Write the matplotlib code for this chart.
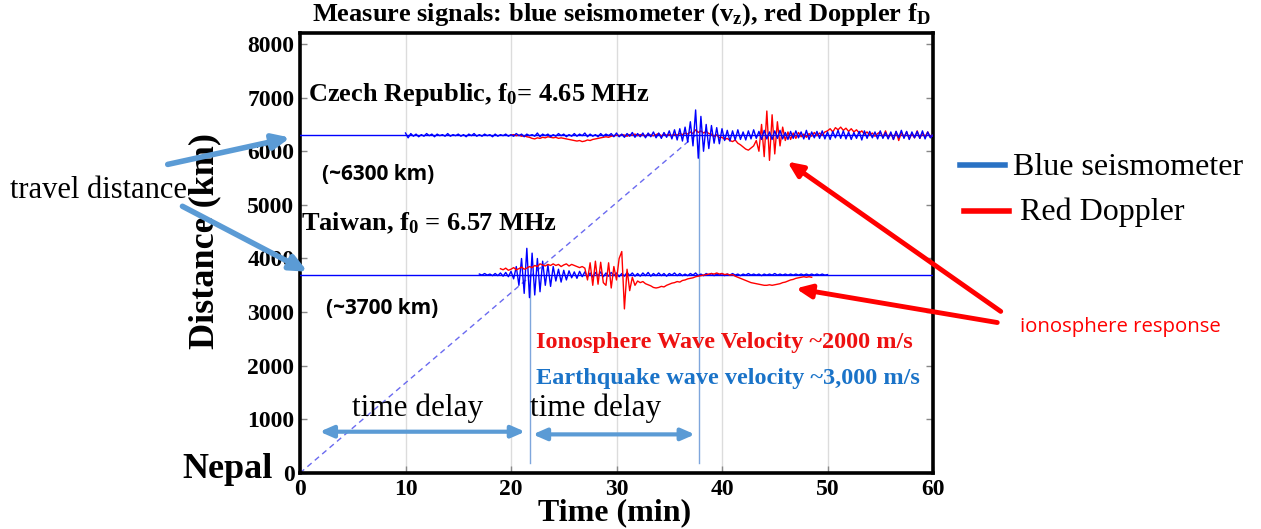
import numpy as np
import matplotlib
matplotlib.use("Agg")
import matplotlib.pyplot as plt

plt.rcParams['mathtext.fontset'] = 'custom'
plt.rcParams['mathtext.rm'] = 'Liberation Serif:bold'
plt.rcParams['mathtext.it'] = 'Liberation Serif:bold'
plt.rcParams['mathtext.bf'] = 'Liberation Serif:bold'
plt.rcParams['mathtext.default'] = 'rm'

SERIF = 'Liberation Serif'

# ---------------- data ----------------
czech_dist = 6300
taiwan_dist = 3700

# Czech seismometer (offsets in km), t = 10..60 step 0.25
czech_blue_t = np.arange(10.0, 60.001, 0.25)
czech_blue = [
    40, -50, 30, -20, 20, -30, 10, -20, 30, -10, 20, -30, 20, -10, 10, -20, 30, -20, 10, -10,
    20, -20, 10, -30, 20, -10, 30, -20, 10, -20, 20, -10, 10, -30, 20, -20, 10, -10, 20, -20,
    10, -20, 30, -10, 20, -30, 20, -10, 10, -20, 40, -30, 20, -10, 20, -30, 10, -20, 30, -10,
    20, -30, 10, -20, 30, -20, 20, -10, 40, -30, 20, -20, 10, -30, 30, -20, 20, -10, 30, -30,
    40, -30, 20, -40, 30, -20, 50, -40, 30, -30, 40, -50, 40, -30, 60, -50, 40, -60, 50, -40,
    80, -70, 100, -90, 120, -110, 150, -130, 250, -200, 470, -430, 350, -300, 200, -250, 180, -150, 140, -160,
    120, -100, 90, -110, 80, -90, 100, -80, 60, -90, 80, -70, 100, -60, 70, -80, 90, -70, 60, -80,
    80, -60, 90, -70, 50, -80, 70, -60, 80, -50, 60, -70, 90, -80, 60, -50, 70, -60, 80, -70,
    60, -80, 70, -50, 90, -60, 80, -70, 60, -80, 50, -60, 70, -90, 80, -60, 70, -50, 60, -70,
    80, -60, 50, -70, 60, -80, 70, -50, 90, -60, 70, -80, 60, -50, 70, -60, 80, -70, 60, -50,
    0]

# Czech Doppler (offsets in km), t = 20..60 step 0.25
czech_red_t = np.arange(20.0, 60.001, 0.25)
czech_red = [
    0, 10, -10, 0, -20, -10, -30, -40, -60, -70, -50, -60, -40, -50, -30, -40, -50, -40, -60, -50,
    -60, -70, -80, -90, -100, -110, -100, -120, -110, -90, -100, -80, -70, -60, -50, -40, -30, -40, -20, -10,
    0, -10, 10, 0, -20, 10, 0, 20, -10, 10, 0, -20, 20, 0, -10, 10, 30, -20, 20, 0,
    10, -10, 20, 0, 30, 10, 40, 20, 60, 30, 100, 50, 80, 40, 70, 30, 20, -30, 10, -50,
    -40, -80, -60, -100, -120, -90, -150, -180, -220, -260, -280, -240, -200, -100, -300, 200, -400, 450, -470, 380,
    -350, 250, -200, 150, -100, 60, -80, 40, -60, 50, -30, 20, -40, 30, -20, 50, -10, 40, 0, 60,
    80, 120, 60, 140, 100, 150, 90, 130, 70, 120, 60, 100, 40, 80, 20, 60, 0, 40, -20, 30,
    60, -40, 80, -60, 40, -80, 70, -100, 50, -40, 60, -70, 30, -50, 80, -60, 40, -30, 60, -40,
    0]

# Taiwan seismometer (offsets in km), t = 17..50 step 0.25
taiwan_blue_t = np.arange(17.0, 50.001, 0.25)
taiwan_blue = [
    10, -10, 20, -10, 10, -20, 20, -20, 30, -30, 40, -40, 60, -80, 150, -200, 300, -350, 490, -430,
    400, -380, 300, -320, 250, -200, 180, -220, 150, -120, 100, -140, 80, -100, 70, -60, 50, -70, 60, -40,
    50, -40, 30, -50, 40, -30, 50, -40, 30, -30, 40, -20, 30, -40, 20, -30, 40, -20, 30, -30,
    20, -30, 30, -20, 40, -30, 20, -20, 30, -20, 20, -30, 20, -10, 30, -20, 20, -20, 10, -20,
    20, -10, 30, -20, 10, -20, 20, -10, 20, -20, 10, -10, 20, -20, 10, -10, 20, -10, 10, -20,
    10, -10, 20, -10, 10, -10, 10, -20, 10, -10, 10, -10, 20, -10, 10, -10, 10, -10, 10, -10,
    10, -10, 10, -10, 10, -10, 10, -10, 10, -10, 10, -10, 0]

# Taiwan Doppler (offsets in km), t = 19..48.5 step 0.25
taiwan_red_t = np.arange(19.0, 48.501, 0.25)
taiwan_red = [
    110, 90, 120, 80, 100, 130, 90, 110, 140, 100, 120, 150, 130, 170, 150, 200, 180, 160, 190, 170,
    200, 170, 190, 150, 180, 200, 160, 190, 170, 150, 130, 150, 120, -100, 220, -200, 250, -180, 230, -150,
    -200, 220, -250, 150, -100, 300, 430, -640, 100, -300, -50, -200, -120, -150, -130, -170, -190, -210, -240, -250,
    -240, -220, -230, -200, -180, -160, -150, -130, -140, -110, -100, -80, -70, -60, -40, -30, -20, -10, 0, 10,
    20, 10, 30, 10, 20, 0, 10, -10, 0, -30, -50, -70, -90, -110, -130, -150, -160, -170, -180, -190,
    -200, -200, -190, -200, -190, -180, -170, -150, -140, -120, -100, -90, -70, -60, -50, -40, -50, -40, -50]

# travel line & arrivals
travel_t = [0, 37.5]
travel_d = [0, 6300]
arrival_taiwan = 21.8
arrival_czech = 37.8

xticks = [0, 10, 20, 30, 40, 50, 60]
yticks = [0, 1000, 2000, 3000, 4000, 5000, 6000, 7000, 8000]
ytick_labels = ['0', '1000', '2000', '3000', '4000', '5000', '6000', '7000', '8000']

BLUE = '#0000ff'
RED = '#ff0000'
STEEL = '#5b9bd5'
LIGHTBLUE = '#7fa6dc'

W, H = 1261, 529
fig = plt.figure(figsize=(W / 100, H / 100), dpi=100)
ax = fig.add_axes([300 / W, 1 - 473 / H, 633 / W, 440 / H])
ax.set_xlim(0, 60)
ax.set_ylim(0, 8205)

# grid
for x in xticks[1:-1]:
    ax.axvline(x, color='#dcdcdc', lw=1.0, zorder=0)

# travel line
ax.plot(travel_t, travel_d, color='#6a6af0', lw=1.0, ls=(0, (4, 3)), zorder=2)

# arrival verticals
ax.plot([arrival_taiwan, arrival_taiwan], [190, taiwan_dist], color=LIGHTBLUE, lw=1.0, zorder=2)
ax.plot([arrival_czech, arrival_czech], [190, czech_dist], color=LIGHTBLUE, lw=1.0, zorder=2)

# baselines + signals
ax.plot([0, 60], [czech_dist, czech_dist], color=BLUE, lw=1.0, zorder=3)
ax.plot([0, 60], [taiwan_dist, taiwan_dist], color=BLUE, lw=1.0, zorder=3)
ax.plot(czech_red_t, czech_dist + np.array(czech_red), color=RED, lw=1.0, zorder=3)
ax.plot(czech_blue_t, czech_dist + np.array(czech_blue), color=BLUE, lw=1.0, zorder=4)
ax.plot(taiwan_red_t, taiwan_dist + np.array(taiwan_red), color=RED, lw=1.0, zorder=4)
ax.plot(taiwan_blue_t, taiwan_dist + np.array(taiwan_blue), color=BLUE, lw=1.0, zorder=3)

# axes styling
for s in ax.spines.values():
    s.set_linewidth(2.6)
ax.set_xticks(xticks)
ax.set_yticks(yticks)
ax.set_yticklabels(ytick_labels)
ax.tick_params(axis='both', direction='in', length=5, width=1, color='#888888',
               right=True, labelsize=17, pad=4)
for lab in ax.get_xticklabels() + ax.get_yticklabels():
    lab.set_fontfamily(SERIF)
    lab.set_fontweight('bold')
ax.set_xlabel('Time (min)', fontsize=23, fontfamily=SERIF, fontweight='bold')
ax.xaxis.set_label_coords((615 - 300) / 633, (473 - 513) / 440)
ax.xaxis.label.set_va('center')
ax.set_ylabel('Distance (km)', fontsize=26, fontfamily=SERIF, fontweight='bold')
ax.yaxis.set_label_coords((205 - 300) / 633, (473 - 241) / 440)
ax.yaxis.label.set_va('center')

# title
fig.text(621 / W, 1 - 15 / H, r'Measure signals: blue seismometer ($v_z$), red Doppler $f_D$',
         fontsize=19, fontfamily=SERIF, fontweight='bold', ha='center', va='center')

# Nepal
fig.text(273 / W, 1 - 469 / H, 'Nepal', fontsize=26, fontfamily=SERIF, fontweight='bold',
         ha='right', va='center')

# station labels
ax.text(0.8, 7050, r'Czech Republic, $f_0$= 4.65 MHz', fontsize=19, fontfamily=SERIF,
        fontweight='bold', va='center', ha='left')
ax.text(0.1, 4650, r'Taiwan, $f_0$ = 6.57 MHz', fontsize=19, fontfamily=SERIF,
        fontweight='bold', va='center', ha='left')
ax.text(2.1, 5570, '(~6300 km)', fontsize=15, fontfamily='Open Sans', fontweight='bold',
        va='center', ha='left')
ax.text(2.5, 3070, '(~3700 km)', fontsize=15, fontfamily='Open Sans', fontweight='bold',
        va='center', ha='left')

# velocity texts
ax.text(22.4, 2440, 'Ionosphere Wave Velocity ~2000 m/s', fontsize=17.5, fontfamily=SERIF,
        fontweight='bold', color='#ee1111', va='center', ha='left')
ax.text(22.4, 1770, 'Earthquake wave velocity ~3,000 m/s', fontsize=17.5, fontfamily=SERIF,
        fontweight='bold', color='#1a73c8', va='center', ha='left')

# time delay arrows
ax.annotate('', xy=(1.6, 770), xytext=(21.6, 770),
            arrowprops=dict(arrowstyle='<|-|>,head_length=0.8,head_width=0.35', color=STEEL, lw=3))
ax.annotate('', xy=(21.8, 720), xytext=(37.7, 720),
            arrowprops=dict(arrowstyle='<|-|>,head_length=0.8,head_width=0.35', color=STEEL, lw=3))
ax.text(11.1, 1210, 'time delay', fontsize=22.5, fontfamily=SERIF, ha='center', va='center')
ax.text(28.0, 1210, 'time delay', fontsize=22.5, fontfamily=SERIF, ha='center', va='center')

# travel distance text & arrows (figure coords)
fig.text(10 / W, 1 - 190 / H, 'travel distance', fontsize=22, fontfamily=SERIF,
         ha='left', va='center')
for (x0, y0, x1, y1) in [(165, 165, 293, 137), (180, 205, 310, 273)]:
    ax.annotate('', xy=(x1 / W, 1 - y1 / H), xycoords='figure fraction',
                xytext=(x0 / W, 1 - y0 / H), textcoords='figure fraction',
                arrowprops=dict(arrowstyle='-|>,head_length=1.0,head_width=0.45',
                                color=STEEL, lw=4), annotation_clip=False)

# red arrows to ionosphere response
for (x0, y0, x1, y1) in [(1003, 313, 785, 160), (1000, 323, 793, 288)]:
    ax.annotate('', xy=(x1 / W, 1 - y1 / H), xycoords='figure fraction',
                xytext=(x0 / W, 1 - y0 / H), textcoords='figure fraction',
                arrowprops=dict(arrowstyle='-|>,head_length=0.9,head_width=0.4',
                                color=RED, lw=3.5), annotation_clip=False)
fig.text(1020 / W, 1 - 327 / H, 'ionosphere response', fontsize=14.7, fontfamily='Open Sans',
         color=RED, ha='left', va='center')

# legend (manual)
fig.add_artist(plt.Line2D([960 / W, 1005 / W], [1 - 165 / H, 1 - 165 / H], color='#2a72c4', lw=4))
fig.add_artist(plt.Line2D([964 / W, 1009 / W], [1 - 211 / H, 1 - 211 / H], color=RED, lw=4))
fig.text(1013 / W, 1 - 168 / H, 'Blue seismometer', fontsize=23, fontfamily=SERIF,
         ha='left', va='center')
fig.text(1020 / W, 1 - 212 / H, 'Red Doppler', fontsize=23, fontfamily=SERIF,
         ha='left', va='center')

fig.savefig('out.png', dpi=100)
